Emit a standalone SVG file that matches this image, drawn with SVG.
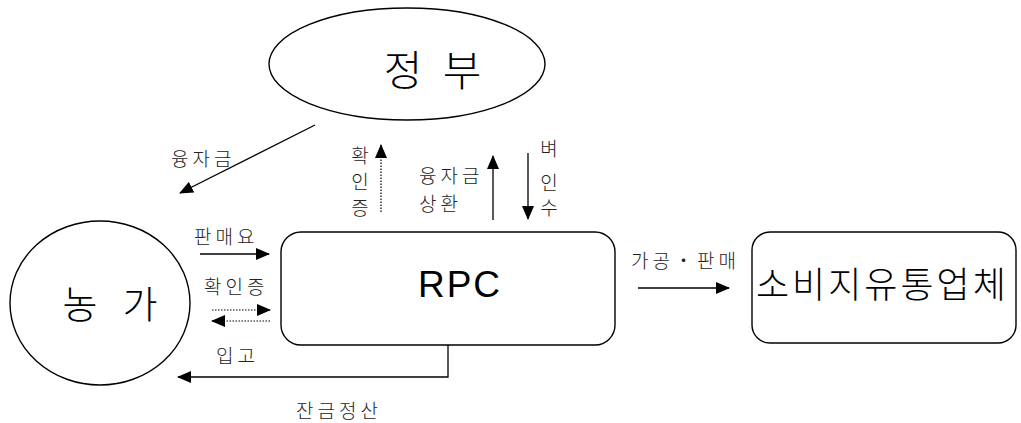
<svg xmlns="http://www.w3.org/2000/svg" width="1021" height="423" viewBox="0 0 1021 423">
<style>
.shape{fill:#fff;stroke:#000;stroke-width:1.4}
.big{font-family:"Noto Sans CJK KR","Noto Sans",sans-serif;font-weight:300;fill:#000;text-anchor:middle}
.lbl{font-family:"Noto Sans CJK KR","Noto Sans",sans-serif;font-weight:300;font-size:19px;fill:#222;letter-spacing:4px}
.v{text-anchor:middle;letter-spacing:0}
.ln{stroke:#000;stroke-width:1.3;fill:none}
.dot{stroke:#000;stroke-width:1.2;fill:none;stroke-dasharray:1.5 1.5}
</style>
<defs>
<marker id="ah" markerWidth="14" markerHeight="12" refX="13" refY="6" orient="auto" markerUnits="userSpaceOnUse">
<path d="M0,0 L14,6 L0,12 Z" fill="#000"/>
</marker>
</defs>
<rect width="1021" height="423" fill="#fff"/>
<g id="node-gov">
<ellipse class="shape" cx="407" cy="64" rx="138" ry="56"/>
<text class="big" x="403" y="86" font-size="42">정</text>
<text class="big" x="462" y="86" font-size="42">부</text>
</g>
<g id="node-farm">
<ellipse class="shape" cx="100" cy="303" rx="90" ry="82"/>
<text class="big" x="80" y="318" font-size="38">농</text>
<text class="big" x="140" y="318" font-size="38">가</text>
</g>
<g id="node-rpc">
<rect class="shape" x="281" y="232" width="334" height="113" rx="20"/>
<text x="460" y="297" font-family="Liberation Sans,Arial,sans-serif" font-size="37" letter-spacing="2" text-anchor="middle">RPC</text>
</g>
<g id="node-dist">
<rect class="shape" x="752" y="232" width="264" height="111" rx="18"/>
<text x="756" y="298" font-family="'Noto Sans CJK KR',sans-serif" font-weight="300" font-size="36" letter-spacing="3">소비지유통업체</text>
</g>
<g id="connectors">
<line class="ln" x1="315" y1="125" x2="180" y2="193" marker-end="url(#ah)"/>
<line class="dot" x1="381" y1="212" x2="381" y2="145" marker-end="url(#ah)"/>
<line class="ln" x1="493" y1="220" x2="493" y2="156" marker-end="url(#ah)"/>
<line class="ln" x1="528" y1="153" x2="528" y2="219" marker-end="url(#ah)"/>
<line class="ln" x1="200" y1="254" x2="269" y2="254" marker-end="url(#ah)"/>
<line class="dot" x1="212" y1="310" x2="270" y2="310" marker-end="url(#ah)"/>
<line class="dot" x1="270" y1="321" x2="212" y2="321" marker-end="url(#ah)"/>
<polyline class="ln" points="448,345 448,377 178,377" marker-end="url(#ah)"/>
<line class="ln" x1="638" y1="288" x2="729" y2="288" marker-end="url(#ah)"/>
</g>
<g id="labels">
<text class="lbl" x="171" y="166">융자금</text>
<text class="lbl v" x="360" y="163">확</text>
<text class="lbl v" x="360" y="189">인</text>
<text class="lbl v" x="360" y="215">증</text>
<text class="lbl" x="419" y="183">융자금</text>
<text class="lbl" x="419" y="211">상환</text>
<text class="lbl v" x="549" y="156">벼</text>
<text class="lbl v" x="549" y="190">인</text>
<text class="lbl v" x="549" y="215">수</text>
<text class="lbl" x="194" y="244">판매요</text>
<text class="lbl" x="204" y="294">확인증</text>
<text class="lbl" x="216" y="363">입고</text>
<text class="lbl" x="296" y="418">잔금정산</text>
<text class="lbl" x="631" y="268">가공・판매</text>
</g>
</svg>
